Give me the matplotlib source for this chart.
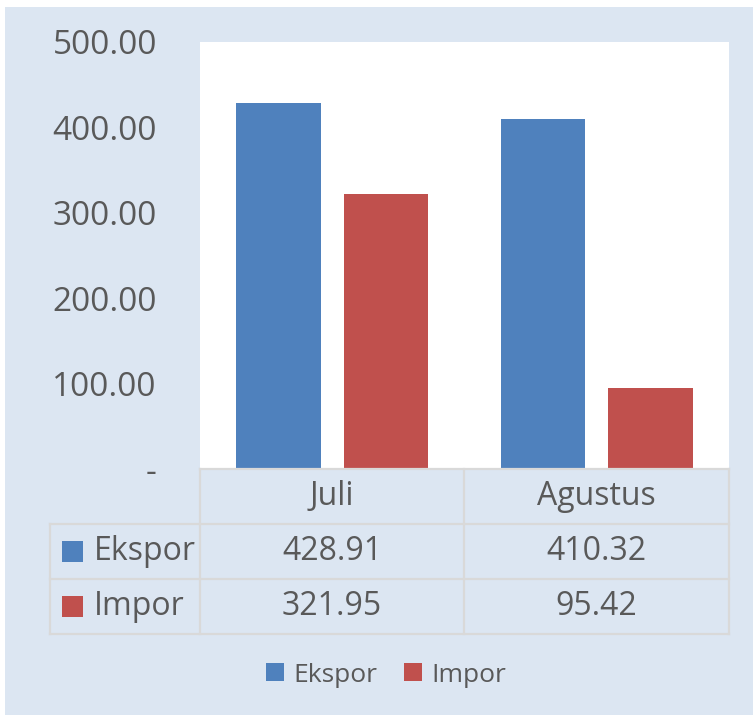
import matplotlib.pyplot as plt
from matplotlib.patches import Patch, Rectangle
from matplotlib.ticker import FuncFormatter

plt.rcParams['font.family'] = ['Open Sans', 'DejaVu Sans']

# data
months = ["Juli", "Agustus"]
series_names = ["Ekspor", "Impor"]
ekspor = [428.91, 410.32]
impor = [321.95, 95.42]
y_ticks = [0, 100, 200, 300, 400, 500]

colors = ["#4f81bd", "#c0504d"]
bg = "#dce6f2"
txt = "#595959"
grid_c = "#d9d9d9"

W, H = 753, 715
fig = plt.figure(figsize=(W / 100, H / 100), dpi=100, facecolor="white")
fig.add_artist(Rectangle((5 / W, 0), 748 / W, 708 / H, transform=fig.transFigure,
                         facecolor=bg, edgecolor="none", zorder=-10))


def px_axes(left, top, right, bottom):
    return fig.add_axes([left / W, 1 - bottom / H, (right - left) / W, (bottom - top) / H])


# main bar chart
ax = px_axes(200, 42, 729, 469)
ax.set_facecolor("white")
bw = 0.32
gap = 0.087
for i, vals in enumerate([ekspor, impor]):
    offs = (-1) ** (i + 1) * (bw + gap) / 2
    ax.bar([k + offs for k in range(len(months))], vals, width=bw, color=colors[i],
           label=series_names[i], zorder=2)
ax.set_xlim(-0.5, len(months) - 0.5)
ax.set_ylim(0, 500)
ax.set_yticks(y_ticks)
ax.yaxis.set_major_formatter(FuncFormatter(lambda v, p: "-" if v == 0 else f"{v:.2f}"))
ax.tick_params(axis="y", length=0, pad=31, labelsize=24, labelcolor=txt)
ax.set_xticks([])
for s in ax.spines.values():
    s.set_visible(False)

# data table under the chart
left_units = 150 / 265
tb = px_axes(50, 469, 729, 634)
tb.set_xlim(-0.5 - left_units, len(months) - 0.5)
tb.set_ylim(3, 0)
tb.axis("off")
lw = 1.6
edges = [k - 0.5 for k in range(len(months) + 1)]
for x in edges:
    tb.plot([x, x], [0, 3], color=grid_c, lw=lw, clip_on=False)
tb.plot([-0.5 - left_units] * 2, [1, 3], color=grid_c, lw=lw, clip_on=False)
tb.plot([-0.5, len(months) - 0.5], [0, 0], color=grid_c, lw=lw, clip_on=False)
for y in [1, 2, 3]:
    tb.plot([-0.5 - left_units, len(months) - 0.5], [y, y], color=grid_c, lw=lw, clip_on=False)

for k, m in enumerate(months):
    tb.text(k, 0.5, m, ha="center", va="center", fontsize=23, color=txt)
for r, vals in enumerate([ekspor, impor]):
    for k, v in enumerate(vals):
        tb.text(k, r + 1.5, f"{v:.2f}", ha="center", va="center", fontsize=23, color=txt)
    x0 = -0.5 - left_units + 12 / 265
    tb.add_patch(Rectangle((x0, r + 1.5 - 0.19), 21 / 265, 0.38, facecolor=colors[r],
                           edgecolor="none"))
    tb.text(x0 + 32 / 265, r + 1.5, series_names[r], ha="left", va="center",
            fontsize=23, color=txt)

# legend
handles = [Patch(facecolor=c, edgecolor="none") for c in colors]
fig.legend(handles, series_names, loc="center", bbox_to_anchor=(386 / W, 1 - 675 / H),
           ncol=2, frameon=False, fontsize=19, labelcolor=txt, handlelength=0.68,
           handleheight=0.68, handletextpad=0.35, columnspacing=1.0)

fig.savefig("out.png", dpi=100, facecolor=fig.get_facecolor())
